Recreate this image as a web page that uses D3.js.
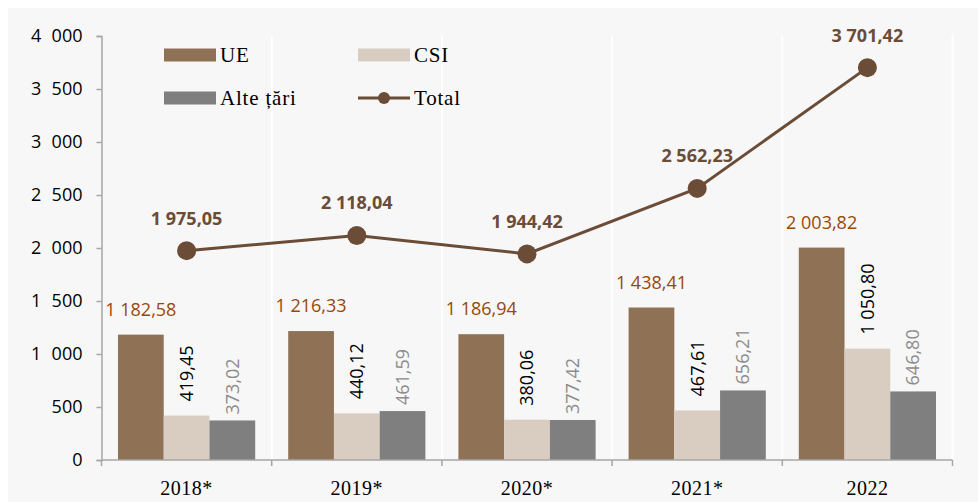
<!DOCTYPE html>
<html>
<head>
<meta charset="utf-8">
<script src="https://cdn.jsdelivr.net/npm/d3@7"></script>
<style>
  body { margin: 0; background: #ffffff; }
  svg { display: block; }
</style>
</head>
<body>
<svg width="978" height="502"></svg>
<script>
// data
const years = ["2018*", "2019*", "2020*", "2021*", "2022"];
const ue = [1182.58, 1216.33, 1186.94, 1438.41, 2003.82];
const csi = [419.45, 440.12, 380.06, 467.61, 1050.80];
const alte = [373.02, 461.59, 377.42, 656.21, 646.80];
const total = [1975.05, 2118.04, 1944.42, 2562.23, 3701.42];
const yTicks = [0, 500, 1000, 1500, 2000, 2500, 3000, 3500, 4000];
const seriesNames = ["UE", "CSI", "Alte țări", "Total"];

const svg = d3.select("svg"),
    width = +svg.attr("width"),
    height = +svg.attr("height");

const sansFont = "'Open Sans', 'DejaVu Sans', sans-serif";
const serifFont = "'Liberation Serif', 'DejaVu Serif', serif";

const colUE = "#8f7256", colCSI = "#d9cdc1", colAlte = "#7f7f7f", colTotal = "#6b4c37";

const ro = d3.formatLocale({decimal: ",", thousands: "\u00a0", grouping: [3], currency: ["", ""]});
const fmt = ro.format(",.2f");
const tickFmt = d => ro.format(",")(d).replace("\u00a0", "\u2007");

// background panel
svg.append("rect")
    .attr("x", 8).attr("y", 8)
    .attr("width", width - 8).attr("height", height - 8)
    .attr("fill", "#f7f7f7");

const x0 = d3.scaleBand()
    .domain(years)
    .range([101.5, 952.5])
    .padding(0);

const x1 = d3.scaleBand()
    .domain([0, 1, 2])
    .range([16.5, x0.bandwidth() - 16.5])
    .padding(0);

const y = d3.scaleLinear()
    .domain([0, 4000])
    .range([460, 36]);

// white vertical separators
svg.append("g")
    .selectAll("line")
    .data(years)
    .join("line")
      .attr("x1", d => x0(d) + x0.bandwidth())
      .attr("x2", d => x0(d) + x0.bandwidth())
      .attr("y1", 36).attr("y2", 460)
      .style("stroke", "#ffffff")
      .style("stroke-width", 2);

// bars
const groups = [ue, csi, alte];
const colors = [colUE, colCSI, colAlte];

const g = svg.append("g");
groups.forEach(function(vals, s) {
    g.selectAll(".bar" + s)
      .data(vals)
      .join("rect")
        .attr("x", (d, i) => x0(years[i]) + x1(s))
        .attr("y", d => y(d))
        .attr("width", x1.bandwidth())
        .attr("height", d => y(0) - y(d))
        .attr("fill", colors[s]);
});

// UE labels (horizontal)
svg.append("g")
    .selectAll("text")
    .data(ue)
    .join("text")
      .attr("x", (d, i) => x0(years[i]) + x1(0) + x1.bandwidth() / 2)
      .attr("y", d => y(d) - 19)
      .attr("text-anchor", "middle")
      .style("font-family", sansFont)
      .style("font-size", "18px")
      .style("fill", "#984807")
      .text(d => fmt(d));

// CSI and Alte labels (rotated)
const rotLabels = [
    {vals: csi, s: 1, color: "#000000", gap: 14},
    {vals: alte, s: 2, color: "#8c8c8c", gap: 6}
];
rotLabels.forEach(function(r) {
    svg.append("g")
      .selectAll("text")
      .data(r.vals)
      .join("text")
        .attr("transform", (d, i) => "translate(" + (x0(years[i]) + x1(r.s) + x1.bandwidth() / 2) + "," + (y(d) - r.gap) + ") rotate(-90)")
        .attr("dy", "0.35em")
        .attr("text-anchor", "start")
        .style("font-family", sansFont)
        .style("font-size", "18px")
        .style("fill", r.color)
        .text(d => fmt(d));
});

// axes
const yAxis = svg.append("g")
    .attr("transform", "translate(101.5,0)")
    .call(d3.axisLeft(y).tickValues(yTicks).tickSize(5).tickPadding(14).tickFormat(tickFmt));
yAxis.selectAll("path, line").style("stroke", "#a6a6a6").style("stroke-width", 1.5);
yAxis.selectAll("text")
    .style("font-family", sansFont)
    .style("font-size", "18px")
    .style("fill", "#000");

const xAxis = svg.append("g")
    .attr("transform", "translate(0,460)");
xAxis.append("line")
    .attr("x1", 101.5).attr("x2", 952.5)
    .style("stroke", "#a6a6a6").style("stroke-width", 1.5);
xAxis.selectAll(".tk")
    .data(d3.range(years.length + 1))
    .join("line")
      .attr("x1", i => 101.5 + x0.bandwidth() * i)
      .attr("x2", i => 101.5 + x0.bandwidth() * i)
      .attr("y1", 0).attr("y2", 6)
      .style("stroke", "#a6a6a6").style("stroke-width", 1.5);
xAxis.selectAll("text")
    .data(years)
    .join("text")
      .attr("x", d => x0(d) + x0.bandwidth() / 2)
      .attr("y", 35)
      .attr("text-anchor", "middle")
      .style("font-family", serifFont)
      .style("font-size", "20px")
      .style("letter-spacing", "0.5px")
      .style("fill", "#000")
      .text(d => d);

// total line
const cx = (d, i) => x0(years[i]) + x0.bandwidth() / 2;
const line = d3.line()
    .x(cx)
    .y(d => y(d));

svg.append("path")
    .datum(total)
    .attr("d", line)
    .style("fill", "none")
    .style("stroke", colTotal)
    .style("stroke-width", 3);

svg.append("g")
    .selectAll("circle")
    .data(total)
    .join("circle")
      .attr("cx", cx)
      .attr("cy", d => y(d))
      .attr("r", 9.5)
      .attr("fill", colTotal);

svg.append("g")
    .selectAll("text")
    .data(total)
    .join("text")
      .attr("x", cx)
      .attr("y", d => y(d) - 26)
      .attr("text-anchor", "middle")
      .style("font-family", sansFont)
      .style("font-size", "18px")
      .style("font-weight", "bold")
      .style("fill", colTotal)
      .text(d => fmt(d));

// legend
const legendPos = [[164, 55], [358, 55], [164, 98], [358, 98]];
const legend = svg.append("g");
seriesNames.forEach(function(name, i) {
    const p = legendPos[i];
    if (i < 3) {
        legend.append("rect")
            .attr("x", p[0]).attr("y", p[1] - 6.5)
            .attr("width", 52).attr("height", 13)
            .attr("fill", colors[i]);
    } else {
        legend.append("line")
            .attr("x1", p[0]).attr("x2", p[0] + 52)
            .attr("y1", p[1]).attr("y2", p[1])
            .style("stroke", colTotal).style("stroke-width", 3);
        legend.append("circle")
            .attr("cx", p[0] + 26).attr("cy", p[1]).attr("r", 6)
            .attr("fill", colTotal);
    }
    legend.append("text")
        .attr("x", p[0] + 56)
        .attr("y", p[1])
        .attr("dy", "0.35em")
        .style("font-family", serifFont)
        .style("font-size", "21px")
        .style("letter-spacing", "0.8px")
        .style("fill", "#000")
        .text(name);
});
</script>
</body>
</html>
